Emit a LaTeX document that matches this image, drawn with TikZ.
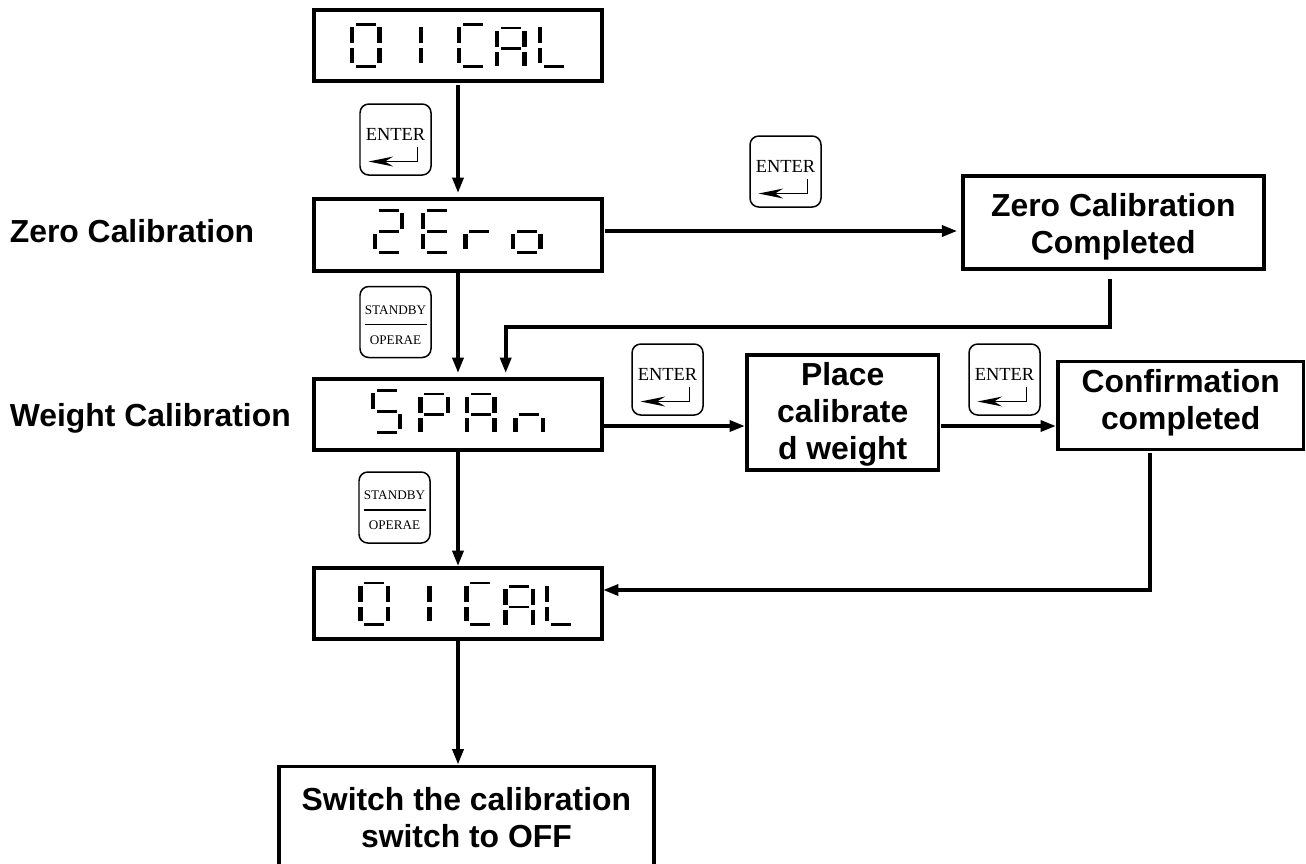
\documentclass[tikz,border=0pt]{standalone}
\usepackage{fontspec}
\setmainfont{Liberation Sans}
\newfontfamily\keyfont{Liberation Serif}
\usetikzlibrary{arrows.meta, positioning, calc}

\def\px{0.02cm}
\tikzset{
  panel/.style={draw, line width=2.2pt, minimum width=#1*\px, align=center, font=\fontsize{18.14}{21}\selectfont\bfseries, inner sep=0pt},
  flow/.style={line width=2.1pt, -{Triangle[length=8.8pt,width=6.2pt]}},
  keybox/.style={draw, line width=0.85pt, rounded corners=5pt, minimum width=71*\px, minimum height=71*\px, inner sep=0pt},
  keyarrow/.style={line width=0.75pt, -{Stealth[length=14pt,width=5.6pt,inset=4.6pt]}},
  sidelabel/.style={font=\fontsize{18.14}{21}\selectfont\bfseries, anchor=base west, inner sep=0pt},
}
% one lit segment of the display
\newcommand{\sega}{\fill (6,0) rectangle +(20,2.7);}
\newcommand{\segb}{\fill (27.4,4) rectangle +(4.3,16);}
\newcommand{\segc}{\fill (27.4,25) rectangle +(4.3,14.5);}
\newcommand{\segd}{\fill (6,41.7) rectangle +(20,2.7);}
\newcommand{\sege}{\fill (0,25) rectangle +(4.3,14.5);}
\newcommand{\segf}{\fill (0,4) rectangle +(4.3,16);}
\newcommand{\segg}{\fill (6,20.7) rectangle +(20,2.7);}
\newcommand{\dispchar}[3]{\begin{scope}[shift={(#1,#2)}]\foreach \s in {#3}{\csname seg\s\endcsname}\end{scope}}

\begin{document}
\begin{tikzpicture}[x=\px, y=-\px]
\clip[use as bounding box] (0,0) rectangle (1306,863);

% display boxes
\node[panel=288, minimum height=71*\px] (cal) at (458,45.5) {};
\node[panel=288, minimum height=72*\px] (zero) at (458,235) {};
\node[panel=288, minimum height=71*\px] (span) at (458,414.5) {};
\node[panel=288, minimum height=71*\px] (calend) at (458,603.5) {};

% text boxes
\node[panel=301.3, minimum height=92.7*\px] (zerodone) at (1113.3,222.7) {\rule{0pt}{17.7pt}Zero Calibration\\Completed};
\node[panel=191.5, minimum height=115*\px] (place) at (842.7,412.8) {\rule{0pt}{15.1pt}Place\\calibrate\\d weight};
\node[panel=245.5, minimum height=88*\px] (confirm) at (1180.7,405.5) {Confirmation\\\rule[-7.3pt]{0pt}{7.3pt}completed};
\node[panel=375.3, minimum height=102*\px] (off) at (466.4,817.5) {Switch the calibration\\switch to OFF};

% side labels
\node[sidelabel] (zerolabel) at (9.5,242.7) {Zero Calibration};
\node[sidelabel] (weightlabel) at (9.5,426.7) {Weight Calibration};

% display characters
\dispchar{350}{23.3}{a,b,c,d,e,f}
\dispchar{391.6}{23.3}{b,c}
\dispchar{456.7}{23.3}{a,d,e,f}
\dispchar{495}{26.6}{a,b,c,e,f,g}
\dispchar{537.7}{23.3}{d,e,f}

\dispchar{372.7}{209.3}{a,b,d,e,g}
\dispchar{420.7}{209.3}{a,d,e,f,g}
\dispchar{463.3}{209.3}{e,g}
\dispchar{511}{209.3}{c,d,e,g}

\dispchar{370.7}{389.3}{a,c,d,f,g}
\dispchar{418.3}{392.6}{a,b,e,f,g}
\dispchar{465}{392.6}{a,b,c,e,f,g}
\dispchar{513.3}{392.6}{c,e,g}

\dispchar{358.3}{581.7}{a,b,c,d,e,f}
\dispchar{400}{581.7}{b,c}
\dispchar{464.3}{581.7}{a,d,e,f}
\dispchar{503.3}{585}{a,b,c,e,f,g}
\dispchar{545}{581.7}{d,e,f}

% keys
\foreach \name/\kx/\ky in {enterA/395.5/139.5, enterB/785.5/171.5, enterC/667.5/379.5, enterD/1004.5/379.5}{
  \node[keybox] (\name) at (\kx,\ky) {};
  \node[font=\keyfont\fontsize{10.5}{12}\selectfont, inner sep=0pt] (\name text) at ([yshift=5.5*\px]\name.center) {ENTER};
  \draw[keyarrow] ([shift={(22,7.5)}]\name.center) |- ([shift={(-27,22)}]\name.center);
}
\foreach \name/\kx/\ky in {standbyA/395.5/322, standbyB/394.5/507.5}{
  \node[keybox] (\name) at (\kx,\ky) {};
  \node[font=\keyfont\fontsize{7.5}{9}\selectfont, inner sep=0pt] (\name top) at ([yshift=12*\px]\name.center) {STANDBY};
  \node[font=\keyfont\fontsize{7.5}{9}\selectfont, inner sep=0pt] (\name bot) at ([yshift=-18*\px]\name.center) {OPERAE};
  \draw[line width=0.75pt] ([shift={(-31,2.6)}]\name.center) -- ([shift={(31,2.6)}]\name.center);
}

% connectors
\coordinate (zeroout) at (605.3,231);
\coordinate (zerotip) at (957.3,231);
\coordinate (spanout) at (604,426);
\coordinate (placeout) at (941,426);
\coordinate (spanin) at (505.7,326.7);
\coordinate (zerodrop) at (1110,279);
\coordinate (confirmdrop) at (1150,453.3);
\coordinate (calin) at (603,590);
\draw[flow, shorten >=4*\px, shorten <=2*\px] (cal) -- (zero);
\draw[flow] (zeroout) -- (zerotip);
\draw[flow, shorten >=4*\px] (zero) -- (span);
\draw[flow, shorten >=4*\px] (zerodrop) |- (spanin) -- (spanin |- span.north);
\draw[flow] (spanout) -- (spanout -| place.west);
\draw[flow] (placeout) -- (placeout -| confirm.west);
\draw[flow] (span) -- (calend);
\draw[flow] (confirmdrop) |- (calin);
\draw[flow] (calend) -- (calend.south |- off.north);
\end{tikzpicture}
\end{document}
